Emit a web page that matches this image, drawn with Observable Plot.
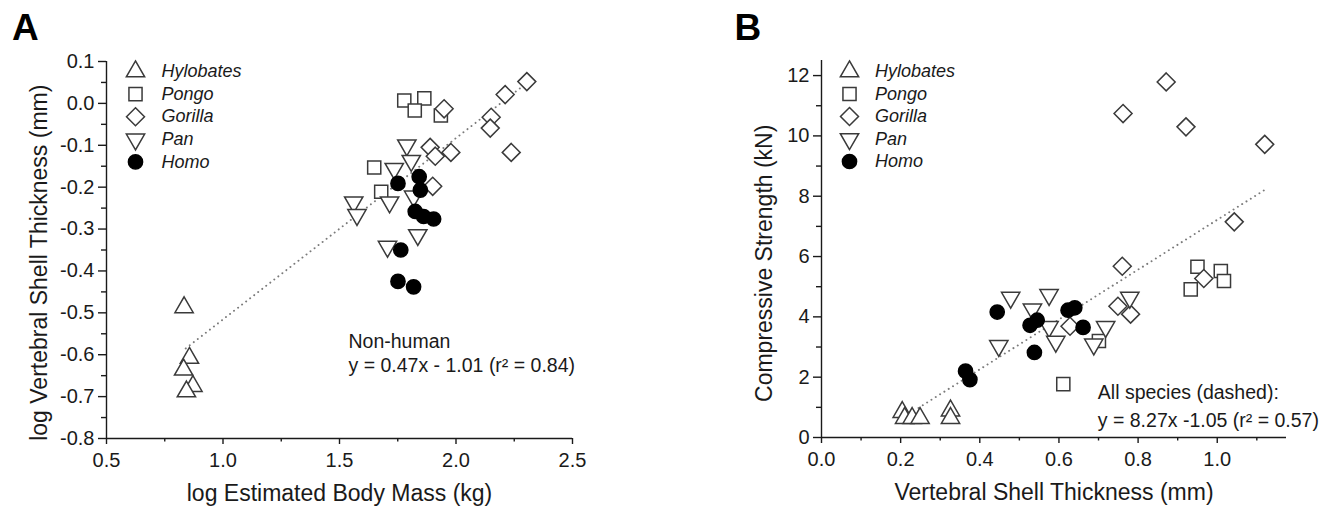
<!DOCTYPE html>
<html><head><meta charset="utf-8">
<script src="https://cdn.jsdelivr.net/npm/d3@7"></script>
<script src="https://cdn.jsdelivr.net/npm/@observablehq/plot@0.6"></script>
<style>
body{margin:0;background:#fff;}
#wrap{position:relative;width:1334px;height:507px;background:#fff;}
#a,#b{position:absolute;top:0}
#a{left:0} #b{left:667px}
</style></head><body><div id="wrap"><div id="a"></div><div id="b"></div></div>
<script>
// ---------- data ----------
const species = ["Hylobates", "Pongo", "Gorilla", "Pan", "Homo"];

// Panel A: log estimated body mass (kg) vs log vertebral shell thickness (mm)
const hylobatesA_x = [0.833, 0.856, 0.831, 0.871, 0.843];
const hylobatesA_y = [-0.487, -0.608, -0.636, -0.675, -0.688];
const pongoA_x = [1.778, 1.864, 1.823, 1.935, 1.649, 1.679];
const pongoA_y = [0.007, 0.012, -0.017, -0.029, -0.153, -0.211];
const gorillaA_x = [2.304, 2.211, 2.151, 2.147, 2.237, 1.949, 1.889, 1.911, 1.978, 1.900];
const gorillaA_y = [0.052, 0.021, -0.033, -0.059, -0.117, -0.013, -0.105, -0.126, -0.117, -0.198];
const panA_x = [1.789, 1.808, 1.735, 1.561, 1.575, 1.715, 1.818, 1.836, 1.706];
const panA_y = [-0.100, -0.137, -0.156, -0.236, -0.266, -0.236, -0.222, -0.314, -0.342];
const homoA_x = [1.751, 1.842, 1.847, 1.825, 1.861, 1.904, 1.763, 1.751, 1.818];
const homoA_y = [-0.191, -0.175, -0.207, -0.258, -0.270, -0.276, -0.350, -0.425, -0.438];
const fitA_x = [0.84, 2.33];
const fitA_y = [-0.585, 0.06];

// Panel B: vertebral shell thickness (mm) vs compressive strength (kN)
const hylobatesB_x = [0.204, 0.210, 0.229, 0.249, 0.326, 0.326];
const hylobatesB_y = [0.84, 0.64, 0.64, 0.64, 0.89, 0.64];
const pongoB_x = [0.950, 0.933, 1.009, 1.017, 0.701, 0.611];
const pongoB_y = [5.66, 4.91, 5.52, 5.19, 3.20, 1.77];
const gorillaB_x = [0.871, 0.762, 0.921, 1.120, 1.043, 0.760, 0.749, 0.781, 0.628, 0.966];
const gorillaB_y = [11.79, 10.74, 10.30, 9.72, 7.15, 5.68, 4.35, 4.09, 3.69, 5.27];
const panB_x = [0.478, 0.448, 0.533, 0.575, 0.575, 0.592, 0.718, 0.688, 0.779];
const panB_y = [4.64, 3.04, 4.25, 4.73, 3.67, 3.18, 3.67, 3.09, 4.64];
const homoB_x = [0.444, 0.364, 0.375, 0.527, 0.545, 0.538, 0.623, 0.640, 0.661];
const homoB_y = [4.16, 2.20, 1.92, 3.72, 3.89, 2.82, 4.22, 4.30, 3.65];
const fitB_x = [0.245, 1.12];
const fitB_y = [0.98, 8.21];

// ticks
const xTicksA = [0.5, 1.0, 1.5, 2.0, 2.5];
const xMinorA = [0.75, 1.25, 1.75, 2.25];
const yTicksA = [0.1, 0.0, -0.1, -0.2, -0.3, -0.4, -0.5, -0.6, -0.7, -0.8];
const yMinorA = [0.05, -0.05, -0.15, -0.25, -0.35, -0.45, -0.55, -0.65, -0.75];
const xTicksB = [0.0, 0.2, 0.4, 0.6, 0.8, 1.0];
const xMinorB = [0.1, 0.3, 0.5, 0.7, 0.9, 1.1];
const yTicksB = [0, 2, 4, 6, 8, 10, 12];
const yMinorB = [1, 3, 5, 7, 9, 11];

// ---------- styles ----------
const FONT = '"Liberation Sans", Arial, Helvetica, sans-serif';
const INK = "#1a1a1a";
const MARK = "#3a3a3a";
const triDown = {draw(ctx, size) {
  const y = Math.sqrt(size / (Math.sqrt(3) * 3));
  ctx.moveTo(0, 2 * y);
  ctx.lineTo(-Math.sqrt(3) * y, -y);
  ctx.lineTo(Math.sqrt(3) * y, -y);
  ctx.closePath();
}};
const symStyle = {
  Hylobates: {symbol: "triangle", r: 6.8, fill: "white", stroke: MARK},
  Pongo: {symbol: "square", r: 7.4, fill: "white", stroke: MARK},
  Gorilla: {symbol: "diamond2", r: 8.1, fill: "white", stroke: MARK},
  Pan: {symbol: triDown, r: 6.8, fill: "white", stroke: MARK},
  Homo: {symbol: "circle", r: 7.1, fill: "black", stroke: "black"}
};

const zip = (xs, ys) => xs.map((x, i) => ({x, y: ys[i]}));
const fmt1 = d => d.toFixed(1);

function panel(cfg) {
  const marks = [
    Plot.ruleX([cfg.xDomain[0]], {stroke: INK, strokeWidth: 1.4}),
    Plot.ruleY([cfg.yDomain[0]], {stroke: INK, strokeWidth: 1.4}),
    Plot.axisX({ticks: cfg.xTicks, tickSize: 6, tickPadding: 8, tickFormat: cfg.fmtX, fontSize: 20, label: null, stroke: INK, strokeWidth: 1.4}),
    Plot.axisX({ticks: cfg.xMinor, tickSize: 3.5, tickFormat: () => "", label: null, stroke: INK, strokeWidth: 1.4}),
    Plot.axisY({ticks: cfg.yTicks, tickSize: 8, tickPadding: 4, tickFormat: cfg.fmtY, fontSize: 20, label: null, stroke: INK, strokeWidth: 1.4}),
    Plot.axisY({ticks: cfg.yMinor, tickSize: 5, tickFormat: () => "", label: null, stroke: INK, strokeWidth: 1.4}),
    Plot.line(zip(cfg.fitX, cfg.fitY), {x: "x", y: "y", stroke: "#7a7a7a", strokeWidth: 1.9, strokeDasharray: "0.1 5", strokeLinecap: "round"})
  ];
  species.forEach(s => {
    const st = symStyle[s];
    marks.push(Plot.dot(cfg.series[s], {x: "x", y: "y", symbol: st.symbol, r: st.r, fill: st.fill, stroke: st.stroke, strokeWidth: 1.5}));
  });
  species.forEach((s, i) => {
    const st = symStyle[s];
    const dy = cfg.legend.dy + i * cfg.legend.step;
    marks.push(Plot.dot([s], {frameAnchor: "top-left", dx: cfg.legend.sx, dy, symbol: st.symbol, r: st.r, fill: st.fill, stroke: st.stroke, strokeWidth: 1.5}));
    marks.push(Plot.text([s], {frameAnchor: "top-left", dx: cfg.legend.tx, dy, text: d => d, textAnchor: "start", lineAnchor: "middle", fontStyle: "italic", fontSize: 18, fill: INK}));
  });
  marks.push(Plot.text([cfg.letter], {frameAnchor: "top-left", dx: cfg.letterPos[0], dy: cfg.letterPos[1], text: d => d, textAnchor: "start", lineAnchor: "middle", fontSize: 37, fontWeight: "bold", fill: "#000"}));
  marks.push(Plot.text([cfg.xTitle], {frameAnchor: "bottom", dy: cfg.xTitleDy, text: d => d, textAnchor: "middle", lineAnchor: "middle", fontSize: 23, fill: INK}));
  marks.push(Plot.text([cfg.yTitle], {frameAnchor: "left", dx: cfg.yTitlePos[0], dy: cfg.yTitlePos[1], rotate: -90, text: d => d, textAnchor: "middle", lineAnchor: "middle", fontSize: 23, fill: INK}));
  cfg.notes.forEach((t, i) => {
    marks.push(Plot.text([t], {frameAnchor: "top-left", dx: cfg.notePos[0], dy: cfg.notePos[1] + i * cfg.notePos[2], text: d => d, textAnchor: "start", lineAnchor: "middle", fontSize: 19.5, fill: INK}));
  });
  return Plot.plot({
    width: 667, height: 507,
    marginLeft: cfg.margins[0], marginRight: cfg.margins[1], marginTop: cfg.margins[2], marginBottom: cfg.margins[3],
    x: {domain: cfg.xDomain}, y: {domain: cfg.yDomain},
    style: {fontFamily: FONT, color: INK, background: "white", overflow: "visible"},
    marks
  });
}

const plotA = panel({
  letter: "A", letterPos: [-94.5, -33],
  xDomain: [0.5, 2.5], yDomain: [-0.8, 0.1],
  margins: [106, 95, 61, 69],
  xTicks: xTicksA, xMinor: xMinorA, yTicks: yTicksA, yMinor: yMinorA,
  fmtX: fmt1, fmtY: fmt1,
  fitX: fitA_x, fitY: fitA_y,
  series: {
    Hylobates: zip(hylobatesA_x, hylobatesA_y), Pongo: zip(pongoA_x, pongoA_y),
    Gorilla: zip(gorillaA_x, gorillaA_y), Pan: zip(panA_x, panA_y), Homo: zip(homoA_x, homoA_y)
  },
  legend: {sx: 29, tx: 55, dy: 10, step: 22.6},
  xTitle: "log Estimated Body Mass (kg)", xTitleDy: 55,
  yTitle: "log Vertebral Shell Thickness (mm)", yTitlePos: [-67, 12.7],
  notes: ["Non-human", "y = 0.47x - 1.01 (r² = 0.84)"], notePos: [242, 280, 24.5]
});

const plotB = panel({
  letter: "B", letterPos: [-87, -32],
  xDomain: [0, 1.175], yDomain: [0, 12.5],
  margins: [154, 48, 60, 70],
  xTicks: xTicksB, xMinor: xMinorB, yTicks: yTicksB, yMinor: yMinorB,
  fmtX: fmt1, fmtY: d => String(d),
  fitX: fitB_x, fitY: fitB_y,
  series: {
    Hylobates: zip(hylobatesB_x, hylobatesB_y), Pongo: zip(pongoB_x, pongoB_y),
    Gorilla: zip(gorillaB_x, gorillaB_y), Pan: zip(panB_x, panB_y), Homo: zip(homoB_x, homoB_y)
  },
  legend: {sx: 28, tx: 53.5, dy: 11, step: 22.5},
  xTitle: "Vertebral Shell Thickness (mm)", xTitleDy: 55.3,
  yTitle: "Compressive Strength (kN)", yTitlePos: [-56.7, 14.3],
  notes: ["All species (dashed):", "y = 8.27x -1.05 (r² = 0.57)"], notePos: [276.3, 332, 28.4]
});

document.getElementById("a").appendChild(plotA);
document.getElementById("b").appendChild(plotB);
</script>
</body></html>
